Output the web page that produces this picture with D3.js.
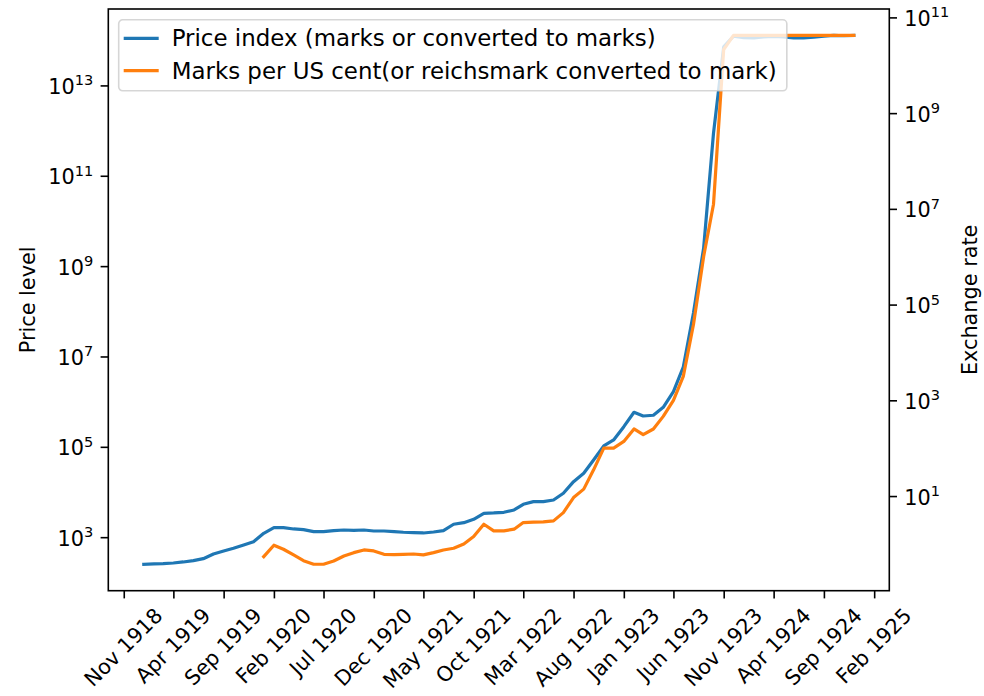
<!DOCTYPE html>
<html>
<head>
<meta charset="utf-8">
<script src="https://cdn.jsdelivr.net/npm/d3@7"></script>
<style>
  body { margin: 0; background: #fff; }
  text { font-family: "DejaVu Sans", sans-serif; fill: #000; }
</style>
</head>
<body>
<div id="chart"></div>
<script>
// monthly series, first month given as [year, monthIndex]
const priceStart = [1919, 0];
const priceIndex = [
  258, 262, 266, 275, 290, 310, 343, 435, 508, 583, 689, 815,
  1250, 1663, 1663, 1559, 1504, 1358, 1358, 1429, 1480, 1458, 1480, 1406,
  1406, 1358, 1318, 1290, 1271, 1337, 1429, 1982, 2148, 2553, 3467, 3524,
  3649, 4104, 5484, 6266, 6266, 6833, 9616, 17380, 26670, 52490, 107200, 145500,
  286600, 597000, 494300, 512600, 771000, 1708000, 6.0e6, 9.4e7, 2.6e9, 9e11, 7.3e13, 1.26e14,
  1.17e14, 1.16e14, 1.21e14, 1.24e14, 1.22e14, 1.16e14, 1.15e14, 1.2e14, 1.27e14, 1.31e14, 1.29e14, 1.31e14
];

const rateStart = [1920, 0];
const exchangeRate = [
  0.555, 0.962, 0.793, 0.603, 0.457, 0.385, 0.385, 0.451, 0.574, 0.673, 0.766, 0.73,
  0.622, 0.61, 0.622, 0.631, 0.603, 0.673, 0.766, 0.832, 1.02, 1.46, 2.64, 1.92,
  1.92, 2.08, 2.86, 2.91, 2.95, 3.1, 4.62, 9.53, 14.3, 36.2, 103, 103,
  142, 258, 196, 258, 473, 1023, 3250, 39300, 1.04e6, 1.28e7, 2.19e10, 4.3e10,
  4.3e10, 4.3e10, 4.3e10, 4.3e10, 4.3e10, 4.3e10, 4.3e10, 4.3e10, 4.3e10, 4.3e10, 4.3e10, 4.3e10
];

const xTickLabels = [
  'Nov 1918', 'Apr 1919', 'Sep 1919', 'Feb 1920', 'Jul 1920', 'Dec 1920', 'May 1921', 'Oct 1921',
  'Mar 1922', 'Aug 1922', 'Jan 1923', 'Jun 1923', 'Nov 1923', 'Apr 1924', 'Sep 1924', 'Feb 1925'
];
const leftTickExps = [3, 5, 7, 9, 11, 13];
const rightTickExps = [1, 3, 5, 7, 9, 11];
const seriesNames = [
  'Price index (marks or converted to marks)',
  'Marks per US cent(or reichsmark converted to mark)'
];
const BLUE = '#1f77b4';
const ORANGE = '#ff7f0e';

const W = 984, H = 696;
const margin = { top: 9, right: 94.7, bottom: 105.3, left: 108.3 };
const FS = 20.8;
const LEGEND_FS = 22.9;
const TICK = 7.7, PAD = 7.3;
const LW = 3.2;

const svg = d3.select('#chart').append('svg').attr('width', W).attr('height', H);
const g = svg.append('g').attr('transform', `translate(${margin.left},${margin.top})`);
const iw = W - margin.left - margin.right;
const ih = H - margin.top - margin.bottom;

const monthDate = (start, i) => new Date(start[0], start[1] + i, 1);
const priceData = priceIndex.map((v, i) => ({ date: monthDate(priceStart, i), value: v }));
const rateData = exchangeRate.map((v, i) => ({ date: monthDate(rateStart, i), value: v }));

// matplotlib-style 5% margins
const [d0, d1] = d3.extent(priceData, d => d.date).map(Number);
const x = d3.scaleTime()
  .domain([new Date(d0 - (d1 - d0) * 0.05), new Date(d1 + (d1 - d0) * 0.05)])
  .range([0, iw]);

function padLog(values) {
  const [lo, hi] = d3.extent(values).map(Math.log10);
  const m = (hi - lo) * 0.05;
  return [10 ** (lo - m), 10 ** (hi + m)];
}
const yLeft = d3.scaleLog().domain(padLog(priceIndex)).range([ih, 0]);
const yRight = d3.scaleLog().domain(padLog(exchangeRate)).range([ih, 0]);

const linePrice = d3.line().x(d => x(d.date)).y(d => yLeft(d.value));
const lineRate = d3.line().x(d => x(d.date)).y(d => yRight(d.value));

g.append('path')
  .datum(priceData)
  .attr('d', linePrice)
  .attr('fill', 'none')
  .attr('stroke', BLUE)
  .attr('stroke-width', LW)
  .attr('stroke-linejoin', 'round')
  .attr('stroke-linecap', 'square');

g.append('path')
  .datum(rateData)
  .attr('d', lineRate)
  .attr('fill', 'none')
  .attr('stroke', ORANGE)
  .attr('stroke-width', LW)
  .attr('stroke-linejoin', 'round')
  .attr('stroke-linecap', 'square');

// x axis
const parseTick = d3.timeParse('%b %Y');
const xTicks = xTickLabels.map(parseTick);
const xAxis = g.append('g')
  .attr('transform', `translate(0,${ih})`)
  .call(d3.axisBottom(x).tickValues(xTicks).tickFormat(d3.timeFormat('%b %Y'))
    .tickSize(TICK).tickPadding(PAD));
xAxis.select('.domain').remove();
xAxis.selectAll('line').attr('stroke', '#000').attr('stroke-width', 1.6);
xAxis.selectAll('text')
  .attr('font-size', FS)
  .attr('font-family', '"DejaVu Sans", sans-serif')
  .each(function() {
    const t = d3.select(this);
    const w = this.getComputedTextLength();
    const h = FS * 0.97;
    const D = (w + h) / (2 * Math.SQRT2);
    t.attr('x', 0).attr('y', 0).attr('dy', '0.28em')
      .attr('text-anchor', 'middle')
      .attr('transform', `translate(0,${TICK + PAD + D}) rotate(-45)`);
  });

// log axes, labels as 10 with superscript exponent
function powerLabel(sel, exps, scale, side) {
  const ax = sel.selectAll('g.tick').data(exps).enter().append('g')
    .attr('class', 'tick')
    .attr('transform', e => `translate(0,${scale(10 ** e)})`);
  ax.append('line')
    .attr('x1', 0).attr('x2', side * TICK)
    .attr('stroke', '#000').attr('stroke-width', 1.6);
  const t = ax.append('text')
    .attr('x', side * (TICK + PAD))
    .attr('y', 8)
    .attr('text-anchor', side < 0 ? 'end' : 'start')
    .attr('font-size', FS);
  t.append('tspan').text('10');
  t.append('tspan').attr('dy', -8.5).attr('font-size', FS * 0.7).text(e => e);
}
powerLabel(g.append('g'), leftTickExps, yLeft, -1);
powerLabel(g.append('g').attr('transform', `translate(${iw},0)`), rightTickExps, yRight, 1);

// spines
g.append('rect')
  .attr('width', iw).attr('height', ih)
  .attr('fill', 'none').attr('stroke', '#000').attr('stroke-width', 1.6);

// axis titles
svg.append('text')
  .attr('transform', `translate(35,${margin.top + ih / 2}) rotate(-90)`)
  .attr('text-anchor', 'middle')
  .attr('font-size', FS)
  .text('Price level');
svg.append('text')
  .attr('transform', `translate(977,${margin.top + ih / 2}) rotate(-90)`)
  .attr('text-anchor', 'middle')
  .attr('font-size', FS)
  .text('Exchange rate');

// legend
const legend = g.append('g').attr('transform', 'translate(10.4,10.8)');
const box = legend.append('rect')
  .attr('rx', 4).attr('ry', 4)
  .attr('fill', '#fff').attr('fill-opacity', 0.8)
  .attr('stroke', '#ccc').attr('stroke-opacity', 0.8).attr('stroke-width', 1.6);
const rows = legend.selectAll('g.row').data(seriesNames).enter().append('g')
  .attr('class', 'row')
  .attr('transform', (d, i) => `translate(0,${18.5 + i * 32.4})`);
rows.append('line')
  .attr('x1', 5).attr('x2', 40)
  .attr('stroke', (d, i) => [BLUE, ORANGE][i])
  .attr('stroke-width', LW);
rows.append('text')
  .attr('x', 53).attr('y', 0).attr('dy', '0.35em')
  .attr('font-size', LEGEND_FS)
  .text(d => d);
let maxW = 0;
rows.selectAll('text').each(function() { maxW = Math.max(maxW, this.getComputedTextLength()); });
box.attr('width', 53 + maxW + 10).attr('height', 71);
</script>
</body>
</html>
